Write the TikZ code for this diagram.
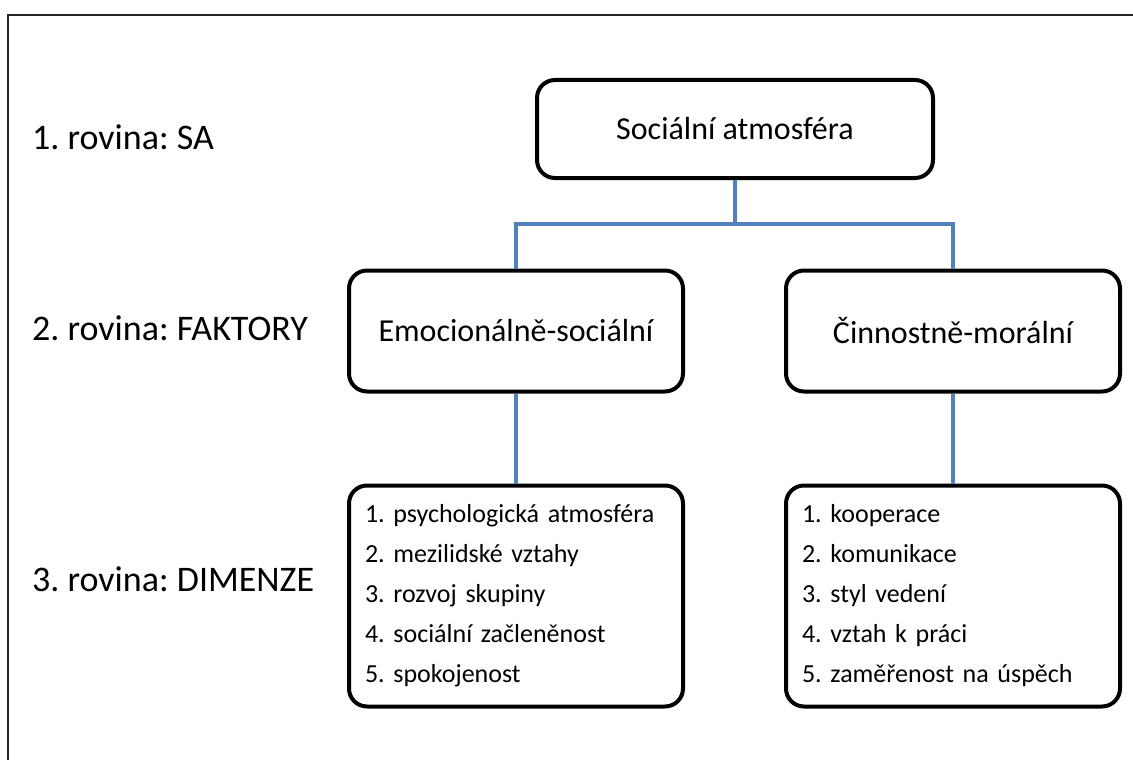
\documentclass[tikz,border=0pt]{standalone}
\usepackage{fontspec}
\setmainfont{Carlito}
\frenchspacing
\usetikzlibrary{positioning}
\definecolor{linkblue}{RGB}{79, 129, 189}

\begin{document}
\begin{tikzpicture}[
    x=1pt, y=-1pt,
    box/.style={
        draw=black,
        fill=white,
        line width=4pt,
        rounded corners=18pt,
        minimum width=334pt,
        minimum height=121pt,
        inner sep=0pt,
        font=\fontsize{32}{38}\selectfont,
    },
    listbox/.style={
        draw=black,
        fill=white,
        line width=4pt,
        rounded corners=18pt,
        minimum height=221pt,
        text width=302pt,
        inner xsep=16pt,
        inner ysep=0pt,
        align=left,
        font=\fontsize{26}{40}\selectfont,
    },
    level/.style={
        anchor=base west,
        inner sep=0pt,
        font=\fontsize{36}{42}\selectfont,
    },
    link/.style={linkblue, line width=4.5pt},
    frame/.style={black!85, line width=2.5pt},
]

\useasboundingbox (0,0) rectangle (1133,760);

% -- Outer frame (only top and left edge are visible)
\draw[frame] (8,775) -- (8,15) -- (1150,15);

% -- Level labels
\node[level] (lvl1) at (32,149) {1. rovina: SA};
\node[level] (lvl2) at (32,340) {2. rovina: FAKTORY};
\node[level] (lvl3) at (32,591) {3. rovina: DIMENZE};

% -- Level 1
\node[box, minimum width=396pt, minimum height=98pt] (sa) at (735,129) {Sociální atmosféra};

% -- Level 2
\node[box] (emo) at (516,331) {Emocionálně-sociální};
\node[box] (cin) at (953,331) {Činnostně-morální};

% -- Level 3
\node[listbox] (emolist) at (516,596) {%
    1. psychologická atmosféra\\
    2. mezilidské vztahy\\
    3. rozvoj skupiny\\
    4. sociální začleněnost\\
    5. spokojenost};
\node[listbox] (cinlist) at (953,596) {%
    1. kooperace\\
    2. komunikace\\
    3. styl vedení\\
    4. vztah k práci\\
    5. zaměřenost na úspěch};

% ===== Connectors =====

% SA -> fork
\coordinate (fork) at (735,224);
\draw[link] (sa) -- (fork);

% fork -> factors
\draw[link] (fork) -| (emo.north);
\draw[link] (fork) -| (cin.north);

% factors -> dimensions
\draw[link] (emo) -- (emolist);
\draw[link] (cin) -- (cinlist);

\end{tikzpicture}
\end{document}
